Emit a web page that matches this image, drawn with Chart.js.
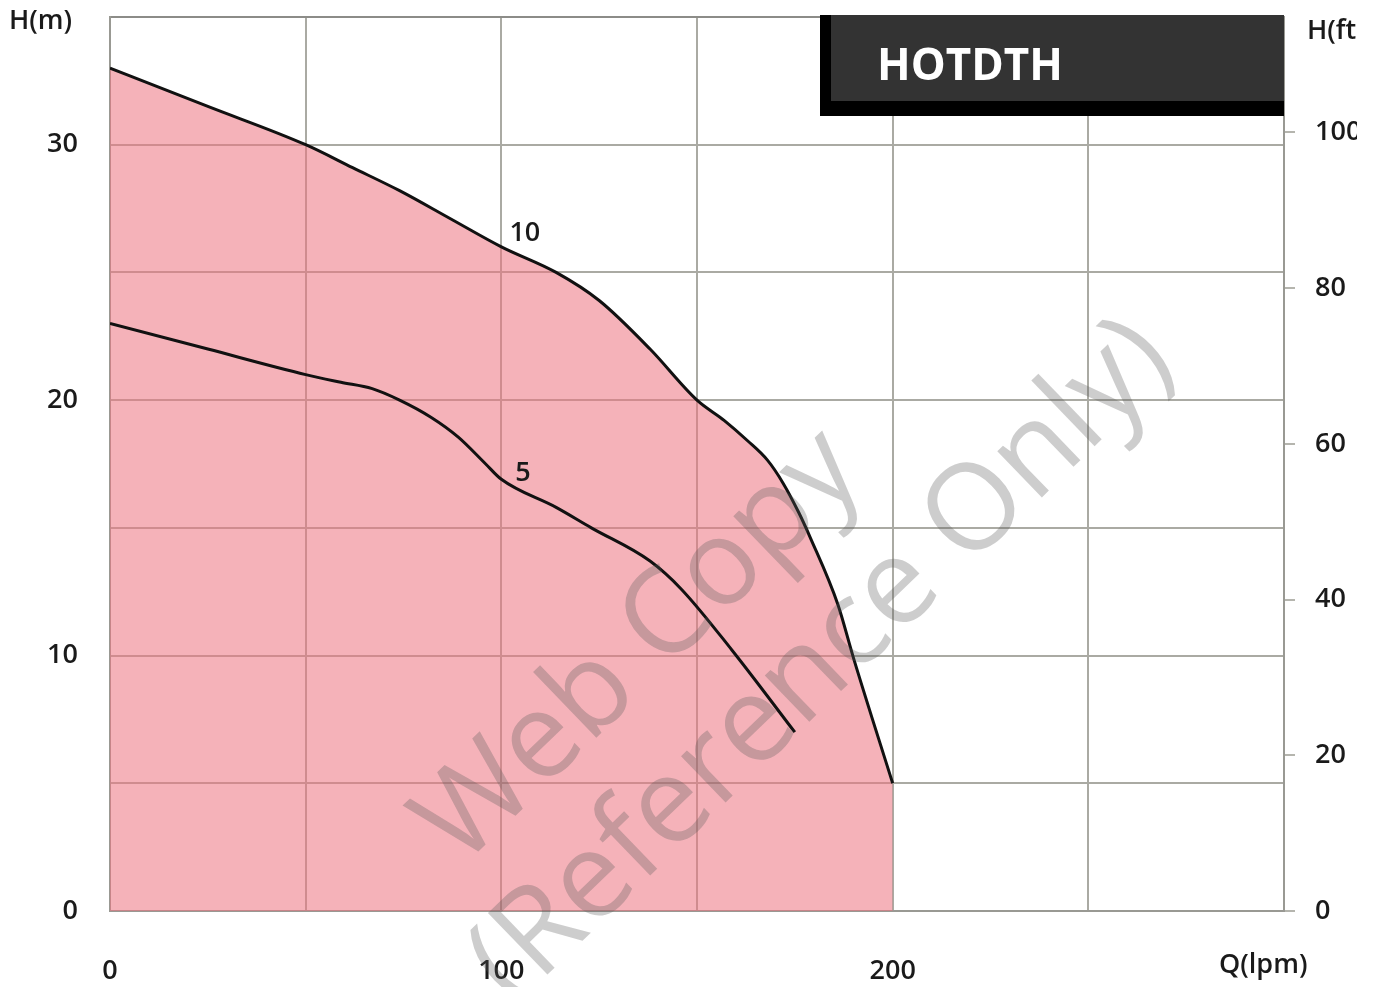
<!DOCTYPE html>
<html>
<head>
<meta charset="utf-8">
<script src="https://cdn.jsdelivr.net/npm/chart.js@4"></script>
<style>
    html, body { margin: 0; padding: 0; background: #fff; }
    #wrap { width: 1373px; height: 987px; }
</style>
</head>
<body>
<div id="wrap"><canvas id="pumpChart"></canvas></div>
<script>

// flow (lpm) and head (m)
const FLOW_10 = [0, 25, 50, 62, 74, 87, 100, 114, 125, 138, 150, 157, 163, 168, 172, 176, 179, 186, 190, 200];
const HEAD_10 = [33.0, 31.5, 30.0, 29.1, 28.2, 27.1, 26.0, 25.0, 23.9, 22.0, 20.0, 19.2, 18.4, 17.65, 16.75, 15.6, 14.6, 12.0, 9.9, 5.0];

const FLOW_5 = [0, 25, 50, 59, 67, 74, 82, 89, 96, 100, 114, 123, 138, 146, 159, 175];
const HEAD_5 = [23.0, 22.0, 21.0, 20.7, 20.45, 20.0, 19.33, 18.55, 17.5, 16.9, 15.8, 15.0, 13.7, 12.6, 10.2, 7.0];

const CURVE_LABELS = ['10', '5'];
const X_TICKS = [0, 100, 200];
const Y_TICKS_M = [0, 10, 20, 30];
const Y_TICKS_FT = [0, 20, 40, 60, 80, 100];
const MODEL = 'HOTDTH';

const M_TO_FT = 3.28084;
const FONT = "'Open Sans', 'Noto Sans', sans-serif";
const GRID = '#aaaaa3';
const TEXT = '#1a1a1a';

function toPoints(xs, ys) {
    var pts = [];
    for (let i = 0; i < xs.length; i++) {
        pts.push({ x: xs[i], y: ys[i] });
    }
    return pts;
}

function noPad(s) {
    s.paddingTop = 0;
    s.paddingBottom = 0;
    s.paddingLeft = 0;
    s.paddingRight = 0;
}

// texts, title box and watermark
const extras = {
    id: 'extras',
    afterDraw(chart) {
        const ctx = chart.ctx;
        const xs = chart.scales.x, ym = chart.scales.y, yf = chart.scales.yft;
        ctx.save();

        // model box
        ctx.fillStyle = '#000';
        ctx.fillRect(820, 15, 464, 101);
        ctx.fillStyle = '#333333';
        ctx.fillRect(831, 15, 453, 86);
        ctx.fillStyle = '#fff';
        ctx.font = "bold 44px 'Liberation Sans Narrow', 'Open Sans', sans-serif";
        ctx.textAlign = 'left';
        ctx.textBaseline = 'alphabetic';
        ctx.fillText(MODEL, 877, 80);

        ctx.fillStyle = TEXT;
        ctx.font = '600 27px ' + FONT;
        ctx.textBaseline = 'middle';

        // right side (ft) labels, cut at the picture edge like the original
        ctx.save();
        ctx.beginPath();
        ctx.rect(1290, 0, 67, 987);
        ctx.clip();
        ctx.textAlign = 'left';
        ctx.fillText('H(ft)', 1307, 31);
        Y_TICKS_FT.forEach((v) => {
            ctx.fillText(String(v), 1315, yf.getPixelForValue(v));
        });
        ctx.restore();

        // axis titles
        ctx.textAlign = 'left';
        ctx.fillText('H(m)', 9, 21);
        ctx.fillText('Q(lpm)', 1219, 965);

        // curve labels
        ctx.textAlign = 'center';
        ctx.fillText(CURVE_LABELS[0], xs.getPixelForValue(106), ym.getPixelForValue(26.55));
        ctx.fillText(CURVE_LABELS[1], xs.getPixelForValue(105.5), ym.getPixelForValue(17.15));

        // watermark
        ctx.fillStyle = 'rgba(90, 90, 90, 0.3)';
        ctx.font = '120px ' + FONT;
        ctx.save();
        ctx.translate(640, 648);
        ctx.rotate(-44 * Math.PI / 180);
        ctx.fillText('Web Copy', 0, 0);
        ctx.restore();
        ctx.save();
        ctx.translate(822, 662);
        ctx.rotate(-44 * Math.PI / 180);
        ctx.fillText('(Reference Only)', 0, 0);
        ctx.restore();

        ctx.restore();
    }
};

const ctxPump = document.getElementById('pumpChart');

const data = {
    datasets: [
        {
            label: CURVE_LABELS[1],
            data: toPoints(FLOW_5, HEAD_5),
            borderColor: '#111',
            borderWidth: 3,
            pointRadius: 0,
            fill: false,
            cubicInterpolationMode: 'monotone',
        },
        {
            label: CURVE_LABELS[0],
            data: toPoints(FLOW_10, HEAD_10),
            borderColor: '#111',
            backgroundColor: 'rgba(236, 115, 128, 0.55)',
            borderWidth: 3,
            pointRadius: 0,
            fill: 'origin',
            cubicInterpolationMode: 'monotone',
        }
    ]
};

const config = {
    type: 'line',
    data: data,
    plugins: [extras],
    options: {
        responsive: true,
        maintainAspectRatio: false,
        animation: false,
        layout: { padding: { top: 17 } },
        plugins: {
            legend: { display: false },
            tooltip: { enabled: false },
            filler: { drawTime: 'beforeDatasetsDraw' }
        },
        scales: {
            x: {
                type: 'linear',
                min: 0,
                max: 300,
                afterFit(s) { s.height = 76; noPad(s); },
                grid: { color: GRID, lineWidth: 2, drawTicks: false },
                border: { color: '#999993', width: 2 },
                ticks: {
                    stepSize: 50,
                    padding: 44,
                    color: TEXT,
                    font: { family: FONT, size: 27, weight: '600' },
                    callback: (v) => X_TICKS.includes(v) ? String(v) : ''
                }
            },
            y: {
                position: 'left',
                min: 0,
                max: 35,
                afterFit(s) { s.width = 110; noPad(s); },
                grid: {
                    color: (c) => c.tick && c.tick.value === 35 ? '#8c8c88' : GRID,
                    lineWidth: 2,
                    drawTicks: false
                },
                border: { color: '#999993', width: 2 },
                ticks: {
                    stepSize: 5,
                    padding: 32,
                    color: TEXT,
                    font: { family: FONT, size: 27, weight: '600' },
                    callback: (v) => Y_TICKS_M.includes(v) ? String(v) : ''
                }
            },
            yft: {
                position: 'right',
                min: 0,
                max: 35 * M_TO_FT,
                afterFit(s) { s.width = 89; noPad(s); },
                grid: { drawOnChartArea: false, drawTicks: true, tickLength: 11, color: '#b5b5ae', lineWidth: 2 },
                border: { color: '#999993', width: 2 },
                ticks: {
                    stepSize: 20,
                    includeBounds: false,
                    color: 'rgba(0,0,0,0)',
                    callback: (v) => Y_TICKS_FT.includes(v) ? String(v) : ''
                }
            }
        }
    }
};

const chartPump = new Chart(ctxPump, config);
</script>
</body>
</html>
